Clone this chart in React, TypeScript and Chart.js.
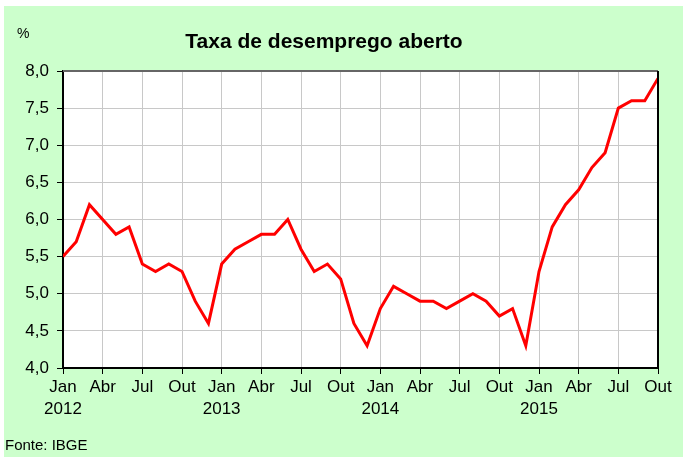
import React, { useEffect, useRef } from "react";
import { Chart, registerables } from "chart.js";

Chart.register(...registerables);

const FONT = "'Liberation Sans', Arial, sans-serif";

const monthNames = ["Jan", "Fev", "Mar", "Abr", "Mai", "Jun", "Jul", "Ago", "Set", "Out", "Nov", "Dez"];
const years = [2012, 2013, 2014, 2015];

const rate2012 = [5.5, 5.7, 6.2, 6.0, 5.8, 5.9, 5.4, 5.3, 5.4, 5.3, 4.9, 4.6];
const rate2013 = [5.4, 5.6, 5.7, 5.8, 5.8, 6.0, 5.6, 5.3, 5.4, 5.2, 4.6, 4.3];
const rate2014 = [4.8, 5.1, 5.0, 4.9, 4.9, 4.8, 4.9, 5.0, 4.9, 4.7, 4.8, 4.3];
const rate2015 = [5.3, 5.9, 6.2, 6.4, 6.7, 6.9, 7.5, 7.6, 7.6, 7.9];

const yTicks = [4.0, 4.5, 5.0, 5.5, 6.0, 6.5, 7.0, 7.5, 8.0];

const title = "Taxa de desemprego aberto";
const unitLabel = "%";
const sourceLabel = "Fonte: IBGE";

const framePlugin = {
  id: "frame",
  beforeDraw(chart: any) {
    const { ctx, chartArea } = chart;
    ctx.save();
    ctx.fillStyle = "#ffffff";
    ctx.fillRect(chartArea.left, chartArea.top, chartArea.right - chartArea.left, chartArea.bottom - chartArea.top);
    ctx.restore();
  },
  afterDraw(chart: any) {
    const { ctx, chartArea } = chart;
    const { left, right, top, bottom } = chartArea;
    ctx.save();
    ctx.lineWidth = 2;
    ctx.strokeStyle = "#666666";
    ctx.beginPath();
    ctx.moveTo(left, top);
    ctx.lineTo(right, top);
    ctx.stroke();
    ctx.strokeStyle = "#000000";
    ctx.beginPath();
    ctx.moveTo(right, top);
    ctx.lineTo(right, bottom);
    ctx.stroke();
    ctx.fillStyle = "#000";
    ctx.textBaseline = "middle";
    ctx.font = `bold 21px ${FONT}`;
    ctx.textAlign = "center";
    ctx.fillText(title, 324, 42);
    ctx.font = `14px ${FONT}`;
    ctx.textAlign = "left";
    ctx.fillText(unitLabel, 17, 34);
    ctx.font = `15px ${FONT}`;
    ctx.fillText(sourceLabel, 5, 446);
    ctx.restore();
  },
};

export default function App() {
  const ref = useRef<HTMLCanvasElement>(null);

  useEffect(() => {
    const values = [...rate2012, ...rate2013, ...rate2014, ...rate2015];
    const points = values.map((v, i) => ({ x: i, y: v }));
    const chart = new Chart(ref.current!, {
      type: "line",
      data: {
        datasets: [
          {
            data: points,
            borderColor: "#ff0000",
            borderWidth: 3,
            pointRadius: 0,
            tension: 0,
            fill: false,
          },
        ],
      },
      options: {
        responsive: false,
        animation: false,
        layout: { padding: { top: 71, right: 25, left: 0, bottom: 0 } },
        plugins: {
          legend: { display: false },
          tooltip: { enabled: false },
          title: { display: false },
        },
        scales: {
          x: {
            type: "linear",
            min: 0,
            max: values.length - 1,
            afterFit: (s: any) => {
              s.height = 89;
            },
            ticks: {
              stepSize: 3,
              autoSkip: false,
              maxRotation: 0,
              color: "#000",
              padding: 2,
              font: { family: FONT, size: 17, lineHeight: 1.3 },
              callback: (v: any) => {
                const i = Math.round(Number(v));
                const m = monthNames[i % 12];
                if (i % 12 === 0) return [m, String(years[Math.floor(i / 12)])];
                return m;
              },
            },
            grid: { color: "#c8c8c8", tickColor: "#000", tickLength: 6, lineWidth: 1 },
            border: { color: "#000", width: 2 },
          },
          y: {
            min: yTicks[0],
            max: yTicks[yTicks.length - 1],
            afterFit: (s: any) => {
              s.width = 63;
            },
            ticks: {
              stepSize: 0.5,
              color: "#000",
              padding: 8,
              font: { family: FONT, size: 17 },
              callback: (v: any) => Number(v).toFixed(1).replace(".", ","),
            },
            grid: { color: "#c8c8c8", tickColor: "#000", tickLength: 6, lineWidth: 1 },
            border: { color: "#000", width: 2 },
          },
        },
      },
      plugins: [framePlugin],
    });
    return () => chart.destroy();
  }, []);

  return (
    <div style={{ position: "fixed", left: 0, top: 0, width: 683, height: 457, background: "#ffffff" }}>
      <div style={{ position: "absolute", left: 4, top: 6, right: 0, bottom: 0, background: "#ccffcc" }} />
      <canvas ref={ref} width={683} height={457} style={{ position: "absolute", left: 0, top: 0, display: "block" }} />
    </div>
  );
}
